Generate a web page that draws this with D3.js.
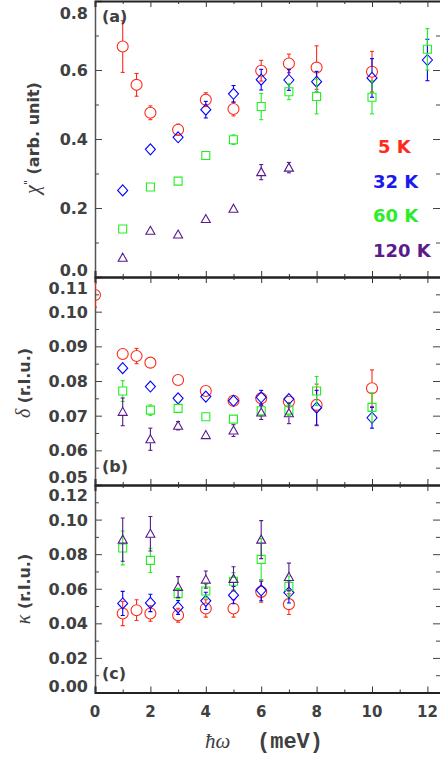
<!DOCTYPE html>
<html>
<head>
<meta charset="utf-8">
<script src="https://cdn.jsdelivr.net/npm/d3@7.9.0/dist/d3.min.js"></script>
<style>
  body { margin: 0; background: #fff; }
  svg { display: block; }
  text { font-family: "DejaVu Sans", sans-serif; font-weight: bold; fill: #404040; }
</style>
</head>
<body>
<div id="chart"></div>
<script>
// Each point: [energy (meV), value, error]
const chi5K = [[1, 0.668, 0.075], [1.5, 0.557, 0.033], [2, 0.476, 0.02], [3, 0.427, 0.016], [4, 0.514, 0.02],
  [5, 0.487, 0.02], [6, 0.598, 0.03], [7, 0.619, 0.027], [8, 0.607, 0.063], [10, 0.595, 0.059]];
const chi32K = [[1, 0.251, 0.006], [2, 0.37, 0.012], [3, 0.405, 0.012], [4, 0.485, 0.024], [5, 0.531, 0.024],
  [6, 0.572, 0.03], [7, 0.571, 0.03], [8, 0.566, 0.03], [10, 0.577, 0.056], [12, 0.629, 0.06]];
const chi60K = [[1, 0.139, 0.005], [2, 0.261, 0.008], [3, 0.278, 0.006], [4, 0.352, 0.01], [5, 0.398, 0.014],
  [6, 0.494, 0.038], [7, 0.537, 0.023], [8, 0.523, 0.05], [10, 0.521, 0.048], [12, 0.66, 0.06]];
const chi120K = [[1, 0.056, 0.004], [2, 0.134, 0.006], [3, 0.123, 0.005], [4, 0.168, 0.006], [5, 0.198, 0.007],
  [6, 0.304, 0.022], [7, 0.317, 0.015]];

const delta5K = [[0, 0.1048, 0.0035], [1, 0.0878, 0.0015], [1.5, 0.0872, 0.0022], [2, 0.0853, 0.001], [3, 0.0803, 0.001],
  [4, 0.0771, 0.001], [5, 0.0743, 0.001], [6, 0.075, 0.0015], [7, 0.074, 0.0012], [8, 0.0731, 0.006], [10, 0.0779, 0.0053]];
const delta32K = [[1, 0.0837, 0.0015], [2, 0.0784, 0.0015], [3, 0.075, 0.001], [4, 0.0755, 0.001], [5, 0.0743, 0.001],
  [6, 0.0753, 0.002], [7, 0.0748, 0.0015], [8, 0.0723, 0.005], [10, 0.0694, 0.003]];
const delta60K = [[1, 0.0771, 0.003], [2, 0.0716, 0.0015], [3, 0.0721, 0.001], [4, 0.0697, 0.001], [5, 0.069, 0.001],
  [6, 0.0714, 0.0015], [7, 0.0716, 0.0015], [8, 0.0771, 0.0042], [10, 0.0724, 0.0042]];
const delta120K = [[1, 0.0711, 0.004], [2, 0.0632, 0.0032], [3, 0.0671, 0.0012], [4, 0.0644, 0.001], [5, 0.0657, 0.0017],
  [6, 0.0709, 0.002], [7, 0.0707, 0.003]];

const kappa5K = [[1, 0.0457, 0.007], [1.5, 0.0476, 0.006], [2, 0.0457, 0.0045], [3, 0.0447, 0.004], [4, 0.0486, 0.005],
  [5, 0.0486, 0.005], [6, 0.0582, 0.006], [7, 0.0511, 0.006]];
const kappa32K = [[1, 0.0515, 0.007], [2, 0.0518, 0.005], [3, 0.0492, 0.004], [4, 0.053, 0.005], [5, 0.0563, 0.005],
  [6, 0.0591, 0.006], [7, 0.0578, 0.006]];
const kappa60K = [[1, 0.0836, 0.0098], [2, 0.0764, 0.007], [3, 0.0572, 0.003], [4, 0.0587, 0.004], [5, 0.0643, 0.005],
  [6, 0.077, 0.012], [7, 0.0614, 0.006]];
const kappa120K = [[1, 0.0884, 0.0125], [2, 0.0918, 0.01], [3, 0.061, 0.006], [4, 0.0653, 0.005], [5, 0.0657, 0.007],
  [6, 0.0884, 0.011], [7, 0.0668, 0.008]];

const temps = ['5 K', '32 K', '60 K', '120 K'];
const colors = ['#ff2a1a', '#0000ff', '#22ee22', '#551a8b'];
const legendColors = ['#ff2a1a', '#1a1aee', '#2bee2b', '#5b1b8b'];
const shapes = ['circle', 'diamond', 'square', 'triangle'];
const xTicks = d3.range(0, 13, 2);
const xMinor = d3.range(1, 13, 2);

const width = 440, height = 761;
const svg = d3.select('#chart').append('svg')
  .attr('width', width).attr('height', height);

const x = d3.scaleLinear().domain([0, 12.5]).range([95, 441.25]);

const panels = [
  { name: 'a', domain: [0, 0.8], range: [277, 1], major: [0, 0.2, 0.4, 0.6, 0.8], minor: [0.1, 0.3, 0.5, 0.7],
    fmt: d3.format('.1f'), series: [chi5K, chi32K, chi60K, chi120K], shiftTop: 12, shiftBottom: -7, letterY: 22 },
  { name: 'b', domain: [0.05, 0.11], range: [485, 277], major: [0.05, 0.06, 0.07, 0.08, 0.09, 0.10, 0.11],
    minor: d3.range(0.055, 0.11, 0.01), fmt: d3.format('.2f'),
    series: [delta5K, delta32K, delta60K, delta120K], shiftTop: 11, shiftBottom: -8, letterY: 472 },
  { name: 'c', domain: [0, 0.12], range: [692.5, 485], major: [0, 0.02, 0.04, 0.06, 0.08, 0.10, 0.12],
    minor: [0.01, 0.03, 0.05, 0.07, 0.09, 0.11], fmt: d3.format('.2f'),
    series: [kappa5K, kappa32K, kappa60K, kappa120K], shiftTop: 10, shiftBottom: -7, letterY: 679 }
];

function markerPath(shape, cx, cy) {
  if (shape === 'circle') {
    const r = 5.5;
    return `M${cx - r},${cy}a${r},${r} 0 1,0 ${2 * r},0a${r},${r} 0 1,0 ${-2 * r},0Z`;
  }
  if (shape === 'diamond') {
    return `M${cx},${cy - 5.5}L${cx + 5},${cy}L${cx},${cy + 5.5}L${cx - 5},${cy}Z`;
  }
  if (shape === 'square') {
    return `M${cx - 4},${cy - 4}h8v8h-8Z`;
  }
  return `M${cx},${cy - 4.5}L${cx + 4.5},${cy + 3.5}L${cx - 4.5},${cy + 3.5}Z`;
}
const gaps = { circle: 5.5, diamond: 5.5, square: 4, triangle: 4 };

panels.forEach((p, pi) => {
  const y = d3.scaleLinear().domain(p.domain).range(p.range);
  const top = p.range[1], bottom = p.range[0];
  const g = svg.append('g').attr('class', 'panel-' + p.name);

  const clipId = 'clip-' + p.name;
  svg.append('clipPath').attr('id', clipId)
    .append('rect').attr('x', 95).attr('y', top).attr('width', 350).attr('height', bottom - top);

  // left axis: major ticks with labels, minor ticks without
  const left = g.append('g').attr('transform', 'translate(95,0)')
    .call(d3.axisLeft(y).tickValues(p.major).tickFormat(p.fmt).tickSize(-7).tickPadding(7));
  left.select('.domain').attr('stroke', '#555').attr('stroke-width', 1.5);
  left.selectAll('.tick line').attr('stroke', '#444');
  left.selectAll('.tick text')
    .attr('font-size', 16).attr('font-family', 'DejaVu Sans').attr('font-weight', 'bold').attr('fill', '#404040')
    .attr('dy', (d, i, n) => {
      let off = 0;
      if (i === n.length - 1) off = p.shiftTop;
      if (i === 0) off = p.shiftBottom;
      return `calc(0.35em + ${off}px)`;
    })
    .each(function (d, i, n) {
      let off = 0;
      if (i === n.length - 1) off = p.shiftTop;
      if (i === 0) off = p.shiftBottom;
      d3.select(this).attr('dy', null).attr('y', off + 5.5);
    });
  g.append('g').attr('transform', 'translate(95,0)')
    .call(d3.axisLeft(y).tickValues(p.minor).tickFormat('').tickSize(-4))
    .call(a => a.select('.domain').remove())
    .selectAll('.tick line').attr('stroke', '#444');

  // right axis ticks
  g.append('g').attr('transform', 'translate(440,0)')
    .call(d3.axisRight(y).tickValues(p.major).tickFormat('').tickSize(-7))
    .call(a => a.select('.domain').remove())
    .selectAll('.tick line').attr('stroke', '#444');
  g.append('g').attr('transform', 'translate(440,0)')
    .call(d3.axisRight(y).tickValues(p.minor).tickFormat('').tickSize(-4))
    .call(a => a.select('.domain').remove())
    .selectAll('.tick line').attr('stroke', '#444');

  // top and bottom x axes of the panel
  [[top, d3.axisTop], [bottom, d3.axisBottom]].forEach(([yy, axisFn]) => {
    const ax = g.append('g').attr('transform', `translate(0,${yy})`)
      .call(axisFn(x).tickValues(xTicks).tickSize(-6).tickFormat(''));
    ax.select('.domain').attr('stroke', '#222').attr('stroke-width', 2);
    ax.selectAll('.tick line').attr('stroke', '#333');
    g.append('g').attr('transform', `translate(0,${yy})`)
      .call(axisFn(x).tickValues(xMinor).tickSize(-3).tickFormat(''))
      .call(a => a.select('.domain').remove())
      .selectAll('.tick line').attr('stroke', '#333');
  });

  // data
  const dataG = g.append('g').attr('clip-path', `url(#${clipId})`);
  p.series.forEach((pts, si) => {
    const color = colors[si];
    const shape = shapes[si];
    const gap = gaps[shape];
    const sg = dataG.append('g').attr('stroke', color).attr('fill', 'none').attr('stroke-width', 1.1);
    pts.forEach(([e, v, err]) => {
      const cx = x(e), cy = y(v);
      const yHi = y(v + err), yLo = y(v - err);
      if (cy - gap > yHi) {
        sg.append('line').attr('x1', cx).attr('x2', cx).attr('y1', yHi).attr('y2', cy - gap);
        sg.append('line').attr('x1', cx - 2).attr('x2', cx + 2).attr('y1', yHi).attr('y2', yHi);
      }
      if (cy + gap < yLo) {
        sg.append('line').attr('x1', cx).attr('x2', cx).attr('y1', cy + gap).attr('y2', yLo);
        sg.append('line').attr('x1', cx - 2).attr('x2', cx + 2).attr('y1', yLo).attr('y2', yLo);
      }
      sg.append('path').attr('d', markerPath(shape, cx, cy));
    });
  });

  g.append('text').attr('x', 102).attr('y', p.letterY).attr('font-size', 16).text(`(${p.name})`);
});

// bottom x tick labels
svg.append('g').selectAll('text').data(xTicks).join('text')
  .attr('x', d => x(d)).attr('y', 717).attr('text-anchor', 'middle')
  .attr('font-size', 15).text(d => d);

// x axis title
const xt = svg.append('text').attr('y', 748);
xt.append('tspan').attr('x', 205).attr('font-family', 'Liberation Serif').attr('font-style', 'italic')
  .attr('font-weight', 'normal').attr('font-size', 21).text('ħω');
xt.append('tspan').attr('x', 257).attr('font-family', 'Liberation Mono').attr('font-size', 22).text('(meV)');

// y axis titles
const ya = svg.append('text').attr('transform', 'translate(39,138) rotate(-90)').attr('text-anchor', 'middle');
ya.append('tspan').attr('font-family', 'Liberation Serif').attr('font-style', 'italic').attr('font-weight', 'normal')
  .attr('font-size', 20).text('χ');
ya.append('tspan').attr('font-size', 11).attr('font-weight', 'normal').attr('dy', -7).text('"');
ya.append('tspan').attr('font-size', 16).attr('dy', 7).text(' (arb. unit)');

[['δ', 383], ['κ', 589]].forEach(([sym, cy]) => {
  const t = svg.append('text').attr('transform', `translate(30,${cy}) rotate(-90)`).attr('text-anchor', 'middle');
  t.append('tspan').attr('font-family', 'Liberation Serif').attr('font-style', 'italic').attr('font-weight', 'normal')
    .attr('font-size', 20).text(sym);
  t.append('tspan').attr('font-size', 16).text(' (r.l.u.)');
});

// legend
const legendY = [153, 188, 222, 257];
svg.append('g').selectAll('text').data(temps).join('text')
  .attr('x', (d, i) => i === 0 ? 378 : 373).attr('y', (d, i) => legendY[i])
  .attr('font-size', 18).style('fill', (d, i) => legendColors[i]).text(d => d);
</script>
</body>
</html>
